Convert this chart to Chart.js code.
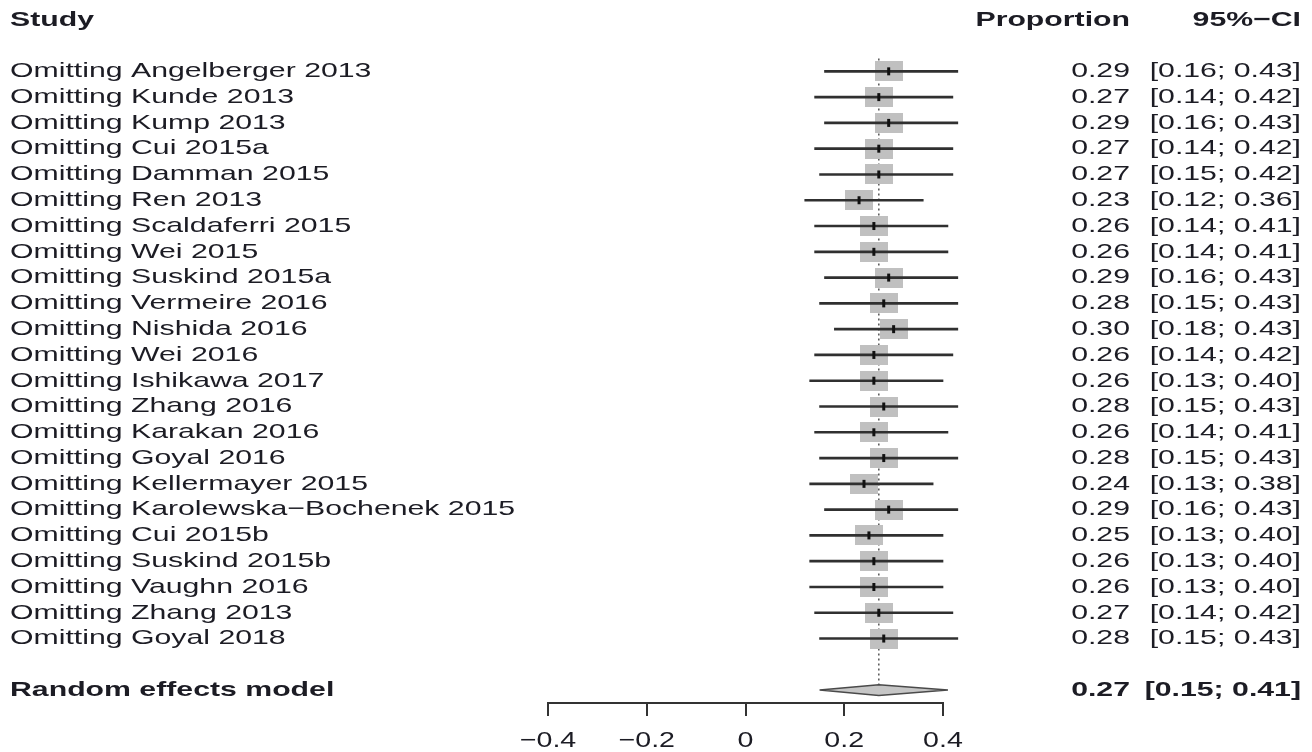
<!DOCTYPE html>
<html>
<head>
<meta charset="utf-8">
<script src="https://cdn.jsdelivr.net/npm/chart.js@4"></script>
<style>
  html, body { margin: 0; padding: 0; background: #fff; }
  #wrap { width: 1312px; height: 752px; }
</style>
</head>
<body>
<div id="wrap"><canvas id="forest"></canvas></div>
<script>
const studies = [
  "Omitting Angelberger 2013", "Omitting Kunde 2013", "Omitting Kump 2013",
  "Omitting Cui 2015a", "Omitting Damman 2015", "Omitting Ren 2013",
  "Omitting Scaldaferri 2015", "Omitting Wei 2015", "Omitting Suskind 2015a",
  "Omitting Vermeire 2016", "Omitting Nishida 2016", "Omitting Wei 2016",
  "Omitting Ishikawa 2017", "Omitting Zhang 2016", "Omitting Karakan 2016",
  "Omitting Goyal 2016", "Omitting Kellermayer 2015", "Omitting Karolewska\u2212Bochenek 2015",
  "Omitting Cui 2015b", "Omitting Suskind 2015b", "Omitting Vaughn 2016",
  "Omitting Zhang 2013", "Omitting Goyal 2018"
];
const proportion = [0.29, 0.27, 0.29, 0.27, 0.27, 0.23, 0.26, 0.26, 0.29, 0.28, 0.30, 0.26,
                    0.26, 0.28, 0.26, 0.28, 0.24, 0.29, 0.25, 0.26, 0.26, 0.27, 0.28];
const lower = [0.16, 0.14, 0.16, 0.14, 0.15, 0.12, 0.14, 0.14, 0.16, 0.15, 0.18, 0.14,
               0.13, 0.15, 0.14, 0.15, 0.13, 0.16, 0.13, 0.13, 0.13, 0.14, 0.15];
const upper = [0.43, 0.42, 0.43, 0.42, 0.42, 0.36, 0.41, 0.41, 0.43, 0.43, 0.43, 0.42,
               0.40, 0.43, 0.41, 0.43, 0.38, 0.43, 0.40, 0.40, 0.40, 0.42, 0.43];
const pooled = { label: "Random effects model", est: 0.27, lo: 0.15, hi: 0.41 };
const tickValues = [-0.4, -0.2, 0, 0.2, 0.4];
const tickLabels = ["\u22120.4", "\u22120.2", "0", "0.2", "0.4"];

// row layout: header row 0, studies from row 2, pooled two rows after the last study
const firstRow = 2;
const pooledRow = firstRow + studies.length + 1;

const SX = 1.44;      // the source picture is stretched horizontally
const FONT = "21px 'Liberation Sans', Arial, sans-serif";
const BOLD = "bold 21px 'Liberation Sans', Arial, sans-serif";
const TEXT = "#1c1c24";

function fmt(v) { return v.toFixed(2); }

function makeBox(w, h, color) {
  const c = document.createElement("canvas");
  c.width = w; c.height = h;
  const g = c.getContext("2d");
  g.fillStyle = color;
  g.fillRect(0, 0, w, h);
  return c;
}

const rows = studies.map((_, i) => firstRow + i);

const textPlugin = {
  id: "forestText",
  afterDraw(chart) {
    const ctx = chart.ctx;
    const y = chart.scales.y;
    const x = chart.scales.x;

    function put(str, px, py, align, font) {
      ctx.save();
      ctx.translate(px, py);
      ctx.scale(SX, 1);
      ctx.font = font;
      ctx.fillStyle = TEXT;
      ctx.textAlign = align;
      ctx.textBaseline = "middle";
      ctx.fillText(str, 0, 0);
      ctx.restore();
    }

    const hy = y.getPixelForValue(0);
    put("Study", 10, hy, "left", BOLD);
    put("Proportion", 1130, hy, "right", BOLD);
    put("95%\u2212CI", 1301, hy, "right", BOLD);

    studies.forEach((name, i) => {
      const py = y.getPixelForValue(rows[i]);
      put(name, 10, py, "left", FONT);
      put(fmt(proportion[i]), 1130, py, "right", FONT);
      put("[" + fmt(lower[i]) + "; " + fmt(upper[i]) + "]", 1301, py, "right", FONT);
    });

    const py = y.getPixelForValue(pooledRow);
    put(pooled.label, 10, py, "left", BOLD);
    put(fmt(pooled.est), 1130, py, "right", BOLD);
    put("[" + fmt(pooled.lo) + "; " + fmt(pooled.hi) + "]", 1301, py, "right", BOLD);

    // axis tick labels
    const ty = chart.chartArea.bottom + 38;
    tickValues.forEach((v, i) => {
      ctx.save();
      ctx.translate(x.getPixelForValue(v), ty);
      ctx.scale(1.3, 1);
      ctx.font = "22px 'Liberation Sans', Arial, sans-serif";
      ctx.fillStyle = TEXT;
      ctx.textAlign = "center";
      ctx.textBaseline = "middle";
      ctx.fillText(tickLabels[i], 0, 0);
      ctx.restore();
    });
  }
};

new Chart(document.getElementById("forest"), {
  type: "bar",
  data: {
    datasets: [
      {
        type: "scatter",
        label: "pooled",
        data: [
          { x: pooled.lo, y: pooledRow },
          { x: pooled.est, y: pooledRow - 0.21 },
          { x: pooled.hi, y: pooledRow },
          { x: pooled.est, y: pooledRow + 0.21 },
          { x: pooled.lo, y: pooledRow }
        ],
        showLine: true,
        fill: "shape",
        backgroundColor: "#c6c6c6",
        borderColor: "#4a4a4a",
        borderWidth: 1.5,
        pointRadius: 0,
        clip: false,
        order: 1
      },
      {
        type: "scatter",
        label: "estimate",
        data: rows.map((r, i) => ({ x: proportion[i], y: r })),
        pointStyle: "line",
        rotation: 90,
        radius: 4,
        borderWidth: 3,
        borderColor: "#111",
        clip: false,
        order: 2
      },
      {
        type: "bar",
        label: "ci",
        indexAxis: "y",
        data: rows.map((r, i) => ({ x: [lower[i], upper[i]], y: r })),
        barThickness: 2,
        backgroundColor: "#303030",
        borderWidth: 0,
        clip: false,
        order: 3
      },
      {
        type: "scatter",
        label: "weight",
        data: rows.map((r, i) => ({ x: proportion[i], y: r })),
        pointStyle: makeBox(28, 20, "#c0c0c0"),
        clip: false,
        order: 4
      },
      {
        type: "scatter",
        label: "pooled line",
        data: [
          { x: pooled.est, y: firstRow - 0.5 },
          { x: pooled.est, y: pooledRow - 0.21 }
        ],
        showLine: true,
        borderColor: "#555",
        borderWidth: 1.5,
        borderDash: [2, 3],
        pointRadius: 0,
        clip: false,
        order: 5
      }
    ]
  },
  options: {
    responsive: true,
    maintainAspectRatio: false,
    animation: false,
    layout: { padding: { left: 548, right: 369, top: 0, bottom: 36 } },
    plugins: {
      legend: { display: false },
      tooltip: { enabled: false }
    },
    scales: {
      x: {
        type: "linear",
        offset: false,
        min: -0.4,
        max: 0.4,
        afterBuildTicks: (axis) => { axis.ticks = tickValues.map((v) => ({ value: v })); },
        ticks: { display: false },
        grid: {
          offset: false,
          drawOnChartArea: false,
          drawTicks: true,
          tickLength: 13,
          color: "#333",
          lineWidth: 2
        },
        border: { display: true, color: "#333", width: 2 }
      },
      y: {
        type: "linear",
        offset: false,
        display: false,
        reverse: true,
        min: -0.4955,
        max: 26.50
      }
    }
  },
  plugins: [textPlugin]
});
</script>
</body>
</html>
